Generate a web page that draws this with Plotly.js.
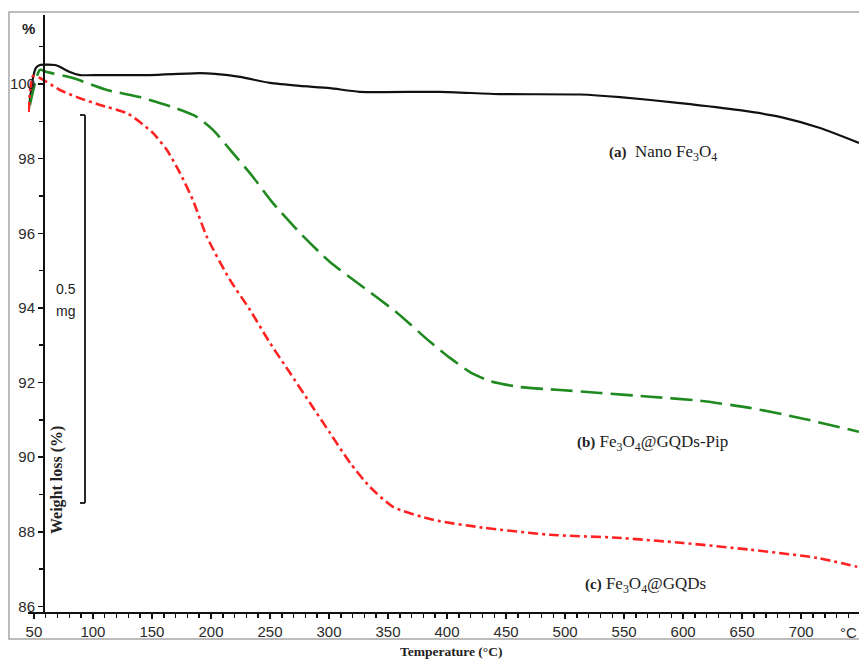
<!DOCTYPE html>
<html>
<head>
<meta charset="utf-8">
<script src="https://cdn.plot.ly/plotly-3.0.1.min.js"></script>
<style>
html,body{margin:0;padding:0;background:#fff;}
#chart{width:859px;height:661px;}
</style>
</head>
<body>
<div id="chart"></div>
<script>
// ---- Data ----
const tempA = [45.8, 49.2, 51.7, 55.1, 67.8, 72, 80.5, 89, 106, 148, 190.7, 203.4, 224.6, 250, 275.4, 300.8, 326, 394, 445, 512.7, 546.6, 597.5, 648, 682, 716, 749];
const weightA = [99.36, 100.16, 100.43, 100.51, 100.51, 100.46, 100.32, 100.24, 100.24, 100.24, 100.29, 100.27, 100.19, 100.03, 99.95, 99.89, 99.79, 99.79, 99.73, 99.72, 99.65, 99.49, 99.30, 99.12, 98.82, 98.42];

const tempB = [46.6, 55.1, 61, 83, 111.9, 139.8, 167.8, 188, 201.7, 218.6, 235.6, 252.5, 275.4, 300.8, 328.8, 357.6, 385.6, 402.5, 419.5, 436.4, 461.9, 495.8, 529.7, 572, 614.4, 656.8, 699, 749];
const weightB = [99.44, 100.38, 100.32, 100.16, 99.84, 99.65, 99.38, 99.12, 98.77, 98.15, 97.51, 96.81, 96.01, 95.23, 94.56, 93.87, 93.09, 92.66, 92.28, 92.04, 91.88, 91.80, 91.72, 91.62, 91.51, 91.32, 91.05, 90.68];

const tempC = [45.5, 49.2, 55.1, 72, 86.4, 106, 128.8, 139.8, 150.8, 162.7, 173.7, 184.7, 196.6, 216.1, 233, 250, 266.9, 283.9, 300.8, 317.8, 334.7, 354.2, 388.1, 430.5, 487.3, 544, 600, 656.8, 713.6, 747.5];
const weightC = [99.25, 100.21, 100.16, 99.84, 99.65, 99.44, 99.22, 98.98, 98.69, 98.23, 97.62, 96.89, 95.90, 94.75, 93.95, 93.06, 92.26, 91.45, 90.65, 89.85, 89.20, 88.67, 88.32, 88.11, 87.92, 87.84, 87.70, 87.52, 87.30, 87.06];

const xTickVals = [50, 100, 150, 200, 250, 300, 350, 400, 450, 500, 550, 600, 650, 700];
const yTickVals = [86, 88, 90, 92, 94, 96, 98, 100];

const seriesNames = ['(a) Nano Fe3O4', '(b) Fe3O4@GQDs-Pip', '(c) Fe3O4@GQDs'];

// ---- Traces ----
const traces = [
  {x: tempA, y: weightA, name: seriesNames[0], mode: 'lines', type: 'scatter',
   line: {color: '#111111', width: 2.2, shape: 'spline', smoothing: 0.6}},
  {x: tempB, y: weightB, name: seriesNames[1], mode: 'lines', type: 'scatter',
   line: {color: '#1f8a1f', width: 2.6, dash: '22px,8px', shape: 'spline', smoothing: 0.6}},
  {x: tempC, y: weightC, name: seriesNames[2], mode: 'lines', type: 'scatter',
   line: {color: '#ff2222', width: 2.6, dash: '10px,4px,3px,4px', shape: 'spline', smoothing: 0.6}}
];

const serif = 'Liberation Serif, Times New Roman, serif';
const sans = 'Liberation Sans, Arial, sans-serif';

function note(x, y, text, font, extra) {
  return Object.assign({xref: 'paper', yref: 'paper', x: x, y: y, text: text, showarrow: false,
    xanchor: 'center', yanchor: 'middle', font: font}, extra || {});
}

const layout = {
  width: 859, height: 661,
  margin: {l: 28, r: 0, t: 15, b: 49, pad: 0},
  paper_bgcolor: '#ffffff', plot_bgcolor: '#ffffff',
  showlegend: false,
  xaxis: {
    range: [45, 749], showgrid: false, zeroline: false,
    showline: true, linecolor: '#111', linewidth: 2,
    tickmode: 'array', tickvals: xTickVals,
    ticks: 'outside', ticklen: 5, tickwidth: 1.5, tickcolor: '#111',
    minor: {dtick: 10, ticks: 'outside', ticklen: 4, tickwidth: 1.5, tickcolor: '#111'},
    tickfont: {family: sans, size: 15, color: '#2a2a2a'},
    fixedrange: true
  },
  yaxis: {
    range: [85.85, 101.85], showgrid: false, zeroline: false,
    anchor: 'free', position: 0.0193,
    showline: true, linecolor: '#111', linewidth: 2,
    tickmode: 'array', tickvals: yTickVals,
    ticks: 'outside', ticklen: 5, tickwidth: 1.5, tickcolor: '#111',
    minor: {dtick: 1, ticks: 'outside', ticklen: 4, tickwidth: 1.5, tickcolor: '#111'},
    tickfont: {family: sans, size: 15, color: '#2a2a2a'},
    fixedrange: true
  },
  shapes: [
    // outer gray frame
    {type: 'rect', xref: 'paper', yref: 'paper', x0: -0.0229, x1: 1.02, y0: -0.0452, y1: 1.005,
     line: {color: '#a8a8a8', width: 1.5}, layer: 'below'},
    // 0.5 mg scale bar
    {type: 'line', xref: 'paper', yref: 'paper', x0: 0.0686, x1: 0.0686, y0: 0.1826, y1: 0.8325,
     line: {color: '#111', width: 1.8}},
    {type: 'line', xref: 'paper', yref: 'paper', x0: 0.0626, x1: 0.0686, y0: 0.8325, y1: 0.8325,
     line: {color: '#111', width: 1.8}},
    {type: 'line', xref: 'paper', yref: 'paper', x0: 0.0626, x1: 0.0686, y0: 0.1826, y1: 0.1826,
     line: {color: '#111', width: 1.8}}
  ],
  annotations: [
    note(0.0012, 0.978, '<b>%</b>', {family: sans, size: 15, color: '#222'}),
    note(0.0457, 0.541, '0.5', {family: sans, size: 14, color: '#222'}),
    note(0.0457, 0.504, 'mg', {family: sans, size: 14, color: '#222'}),
    note(0.0349, 0.221, '<b>Weight loss (%)</b>', {family: serif, size: 16, color: '#222'}, {textangle: -90}),
    note(0.510, -0.067, '<b>Temperature (°C)</b>', {family: serif, size: 13.5, color: '#222'}),
    note(1.0, -0.035, '°C', {family: sans, size: 15, color: '#2a2a2a'}, {xanchor: 'right'}),
    note(0.697, 0.769, '<b style="font-size:15px">(a)</b>  Nano Fe<sub>3</sub>O<sub>4</sub>',
         {family: serif, size: 17, color: '#222'}, {xanchor: 'left'}),
    note(0.658, 0.283, '<b style="font-size:15px">(b)</b> Fe<sub>3</sub>O<sub>4</sub>@GQDs-Pip',
         {family: serif, size: 17, color: '#222'}, {xanchor: 'left'}),
    note(0.668, 0.045, '<b style="font-size:15px">(c)</b> Fe<sub>3</sub>O<sub>4</sub>@GQDs',
         {family: serif, size: 17, color: '#222'}, {xanchor: 'left'})
  ]
};

Plotly.newPlot('chart', traces, layout, {displayModeBar: false, staticPlot: true});
</script>
</body>
</html>
